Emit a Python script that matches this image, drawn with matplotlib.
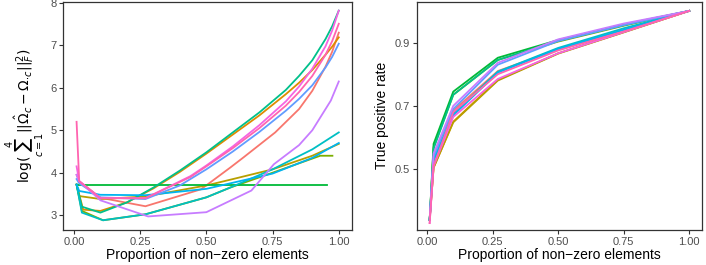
import matplotlib
matplotlib.use("Agg")
import matplotlib.pyplot as plt

plt.rcParams['font.family'] = ['Liberation Sans', 'DejaVu Sans']
plt.rcParams['mathtext.fontset'] = 'dejavusans'

# ggplot hue palette for 12 groups
colors = ["#F8766D", "#DE8C00", "#B79F00", "#7CAE00", "#00BA38", "#00C08B",
          "#00BFC4", "#00B4F0", "#619CFF", "#C77CFF", "#F564E3", "#FF64B0"]

# left panel: log of summed squared Frobenius error
err_x = [
    [0.01, 0.02, 0.1, 0.27, 0.48, 0.59, 0.64, 0.76, 0.85, 0.9, 0.95, 0.975, 1.0],
    [0.01, 0.035, 0.1, 0.2, 0.3, 0.4, 0.5, 0.6, 0.7, 0.8, 0.85, 0.9, 0.95, 0.975, 1.0],
    [0.01, 0.02, 0.1, 0.27, 0.5, 0.6, 0.75, 0.9, 1.0],
    [0.01, 0.03, 0.11, 0.27, 0.5, 0.59, 0.75, 0.93, 0.976],
    [0.01, 0.25, 0.5, 0.75, 0.955],
    [0.01, 0.03, 0.1, 0.2, 0.3, 0.4, 0.5, 0.6, 0.7, 0.8, 0.85, 0.9, 0.95, 0.975, 1.0],
    [0.01, 0.03, 0.11, 0.27, 0.5, 0.59, 0.75, 0.9, 1.0],
    [0.01, 0.02, 0.1, 0.27, 0.5, 0.75, 0.9, 1.0],
    [0.01, 0.02, 0.1, 0.27, 0.4, 0.5, 0.6, 0.7, 0.8, 0.85, 0.9, 0.95, 0.975, 1.0],
    [0.01, 0.02, 0.1, 0.28, 0.5, 0.67, 0.755, 0.85, 0.9, 0.97, 1.0],
    [0.01, 0.02, 0.1, 0.27, 0.44, 0.5, 0.6, 0.7, 0.8, 0.85, 0.9, 0.95, 0.975, 1.0],
    [0.01, 0.02, 0.1, 0.27, 0.44, 0.5, 0.6, 0.7, 0.8, 0.85, 0.9, 0.95, 0.975, 1.0],
]
err_y = [
    [3.95, 3.8, 3.41, 3.21, 3.61, 4.12, 4.36, 4.95, 5.5, 5.93, 6.5, 6.85, 7.3],
    [3.72, 3.13, 3.1, 3.3, 3.63, 4.02, 4.45, 4.9, 5.35, 5.85, 6.12, 6.42, 6.78, 6.97, 7.19],
    [3.72, 3.45, 3.38, 3.44, 3.7, 3.85, 4.08, 4.4, 4.68],
    [3.72, 3.1, 2.88, 3.02, 3.42, 3.65, 4.0, 4.4, 4.4],
    [3.72, 3.72, 3.72, 3.72, 3.72],
    [3.72, 3.2, 3.06, 3.3, 3.65, 4.05, 4.48, 4.95, 5.42, 5.95, 6.28, 6.65, 7.15, 7.45, 7.82],
    [3.72, 3.06, 2.88, 3.02, 3.42, 3.65, 4.08, 4.55, 4.95],
    [3.72, 3.57, 3.48, 3.47, 3.62, 3.98, 4.35, 4.7],
    [3.85, 3.75, 3.42, 3.38, 3.7, 4.08, 4.5, 4.96, 5.46, 5.74, 6.06, 6.48, 6.73, 7.04],
    [3.95, 3.8, 3.35, 2.97, 3.07, 3.58, 4.2, 4.65, 5.0, 5.7, 6.15],
    [4.15, 3.8, 3.4, 3.4, 3.92, 4.17, 4.62, 5.12, 5.68, 6.03, 6.45, 6.98, 7.35, 7.82],
    [5.2, 3.8, 3.4, 3.4, 3.9, 4.15, 4.58, 5.05, 5.58, 5.9, 6.28, 6.78, 7.1, 7.51],
]

# right panel: true positive rate
tpr_x = [0.01, 0.025, 0.1, 0.27, 0.5, 0.75, 1.0]
tpr_y = [
    [0.34, 0.52, 0.685, 0.81, 0.878, 0.94, 1.0],
    [0.34, 0.505, 0.65, 0.782, 0.866, 0.933, 1.0],
    [0.34, 0.505, 0.648, 0.78, 0.865, 0.932, 1.0],
    [0.34, 0.57, 0.735, 0.845, 0.903, 0.953, 1.0],
    [0.34, 0.58, 0.745, 0.852, 0.908, 0.957, 1.0],
    [0.34, 0.565, 0.735, 0.845, 0.905, 0.955, 1.0],
    [0.34, 0.53, 0.675, 0.808, 0.883, 0.945, 1.0],
    [0.34, 0.53, 0.67, 0.805, 0.88, 0.94, 1.0],
    [0.34, 0.54, 0.69, 0.83, 0.905, 0.955, 1.0],
    [0.34, 0.55, 0.70, 0.836, 0.91, 0.96, 1.0],
    [0.33, 0.51, 0.665, 0.785, 0.866, 0.933, 1.0],
    [0.33, 0.51, 0.68, 0.80, 0.875, 0.935, 1.0],
]

x_ticks = [0.0, 0.25, 0.5, 0.75, 1.0]
x_tick_labels = ["0.00", "0.25", "0.50", "0.75", "1.00"]


def styleAxis(ax):
    # theme_bw without grid
    for side in ax.spines.values():
        side.set_color("#333333")
        side.set_linewidth(0.9)
    ax.tick_params(direction="out", length=3, width=0.8, color="#333333",
                   labelcolor="#4D4D4D", labelsize=8, pad=2)
    ax.set_xticks(x_ticks)
    ax.set_xticklabels(x_tick_labels)
    ax.set_xlim(-0.04, 1.05)
    ax.set_xlabel("Proportion of non\u2212zero elements", fontsize=10, labelpad=1)


def main():
    fig = plt.figure(figsize=(7.06, 2.65), dpi=100)
    axLeft = fig.add_axes([0.0897, 0.132, 0.4089, 0.8616])
    axRight = fig.add_axes([0.590, 0.132, 0.4048, 0.8616])

    for i in range(len(colors)):
        axLeft.plot(err_x[i], err_y[i], color=colors[i], linewidth=1.3)
        axRight.plot(tpr_x, tpr_y[i], color=colors[i], linewidth=1.3)

    styleAxis(axLeft)
    axLeft.set_ylim(2.65, 8.03)
    axLeft.set_yticks([3, 4, 5, 6, 7, 8])
    axLeft.set_ylabel(r'$\log(\sum_{c=1}^{4}||\hat{\Omega}_c - \Omega_{\cdot c}||_F^2)$',
                      fontsize=10, labelpad=2)

    styleAxis(axRight)
    axRight.set_ylim(0.308, 1.029)
    axRight.set_yticks([0.5, 0.7, 0.9])
    axRight.set_ylabel("True positive rate", fontsize=10, labelpad=4)

    fig.savefig("out.png", dpi=100)


main()
